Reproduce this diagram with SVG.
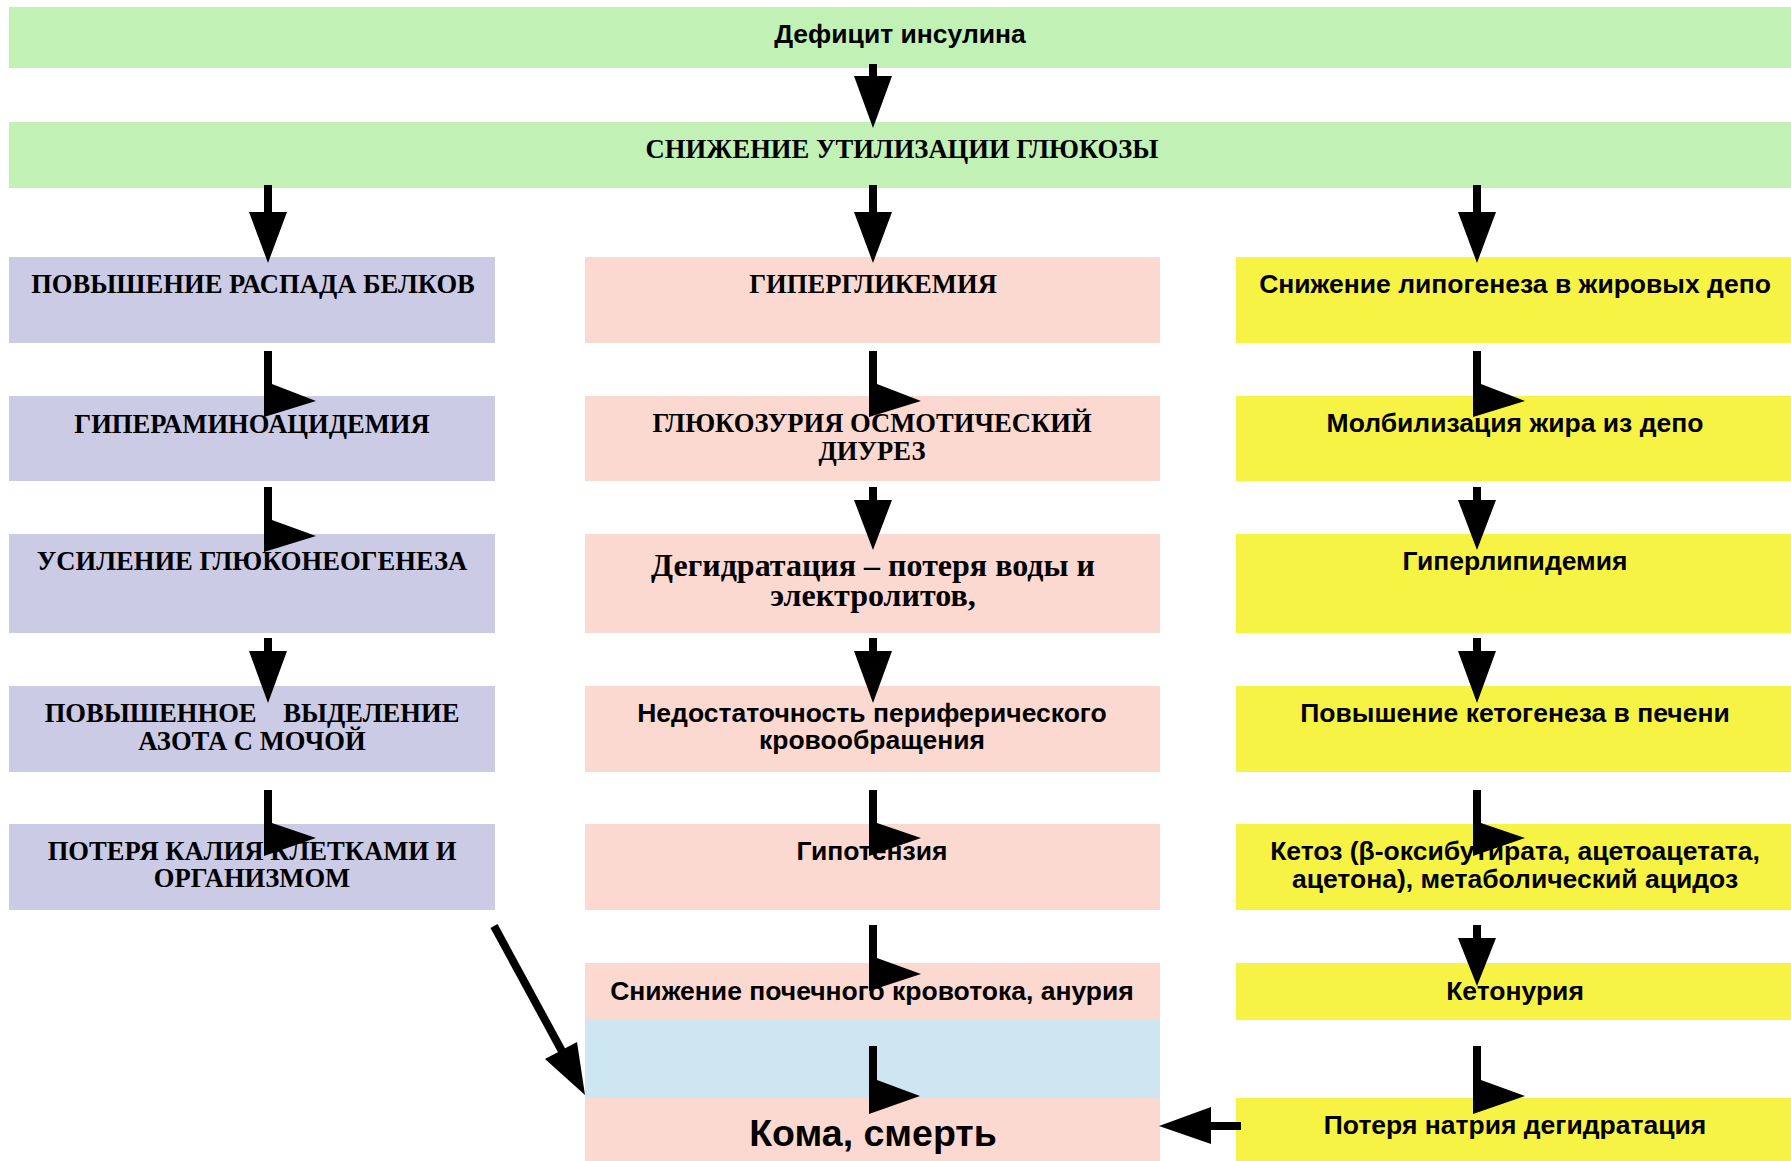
<svg xmlns="http://www.w3.org/2000/svg" width="1791" height="1161" viewBox="0 0 1791 1161">
<style>
.g{fill:#c1f1b5}.l{fill:#cbcbe6}.p{fill:#fbd9d0}.y{fill:#f7f345}.b{fill:#cee5f2}
.s{font-family:"Liberation Sans",Arial,sans-serif;font-weight:bold;font-size:26.5px;fill:#000;text-anchor:middle}
.t{font-family:"Liberation Serif","Times New Roman",serif;font-weight:bold;font-size:26.6px;fill:#000;text-anchor:middle}
.a{fill:#000}
</style>
<rect width="1791" height="1161" fill="#fff"/>
<g id="n-deficit"><rect class="g" x="9" y="7" width="1782" height="61"/><text class="s" x="900" y="43">Дефицит инсулина</text></g>
<g id="n-snizh-util"><rect class="g" x="9" y="122" width="1782" height="66"/><text class="t" x="902" y="158">СНИЖЕНИЕ УТИЛИЗАЦИИ ГЛЮКОЗЫ</text></g>

<g id="n-raspad"><rect class="l" x="9" y="257" width="486" height="86"/><text class="t" x="253" y="293">ПОВЫШЕНИЕ РАСПАДА БЕЛКОВ</text></g>
<g id="n-hyperamino"><rect class="l" x="9" y="396" width="486" height="85"/><text class="t" x="252" y="433">ГИПЕРАМИНОАЦИДЕМИЯ</text></g>
<g id="n-gluconeo"><rect class="l" x="9" y="534" width="486" height="99"/><text class="t" x="252" y="570">УСИЛЕНИЕ ГЛЮКОНЕОГЕНЕЗА</text></g>
<g id="n-azot"><rect class="l" x="9" y="686" width="486" height="86"/><text class="t" x="252" y="722" xml:space="preserve">ПОВЫШЕННОЕ    ВЫДЕЛЕНИЕ</text><text class="t" x="252" y="750">АЗОТА С МОЧОЙ</text></g>
<g id="n-kalij"><rect class="l" x="9" y="824" width="486" height="86"/><text class="t" x="252" y="860">ПОТЕРЯ КАЛИЯ КЛЕТКАМИ И</text><text class="t" x="252" y="887">ОРГАНИЗМОМ</text></g>

<g id="n-hyperglyc"><rect class="p" x="585" y="257" width="575" height="86"/><text class="t" x="873" y="293">ГИПЕРГЛИКЕМИЯ</text></g>
<g id="n-glucosuria"><rect class="p" x="585" y="396" width="575" height="85"/><text class="t" x="872" y="432">ГЛЮКОЗУРИЯ ОСМОТИЧЕСКИЙ</text><text class="t" x="872" y="460">ДИУРЕЗ</text></g>
<g id="n-degidr"><rect class="p" x="585" y="534" width="575" height="99"/><text class="t" x="873" y="576" style="font-size:32px">Дегидратация – потеря воды и</text><text class="t" x="873" y="606" style="font-size:32px">электролитов,</text></g>
<g id="n-nedost"><rect class="p" x="585" y="686" width="575" height="86"/><text class="s" x="872" y="722">Недостаточность периферического</text><text class="s" x="872" y="749">кровообращения</text></g>
<g id="n-hypoten"><rect class="p" x="585" y="824" width="575" height="86"/><text class="s" x="872" y="860">Гипотензия</text></g>
<g id="n-pochech"><rect class="p" x="585" y="963" width="575" height="57"/><text class="s" x="872" y="1000">Снижение почечного кровотока, анурия</text></g>
<g id="n-blank"><rect class="b" x="585" y="1020" width="575" height="78"/></g>
<g id="n-koma"><rect class="p" x="585" y="1098" width="575" height="63"/><text class="s" x="873" y="1146" style="font-size:37.5px">Кома, смерть</text></g>

<g id="n-lipogen"><rect class="y" x="1236" y="257" width="555" height="86"/><text class="s" x="1515" y="293">Снижение липогенеза в жировых депо</text></g>
<g id="n-mobil"><rect class="y" x="1236" y="396" width="555" height="85"/><text class="s" x="1515" y="432">Молбилизация жира из депо</text></g>
<g id="n-hyperlip"><rect class="y" x="1236" y="534" width="555" height="99"/><text class="s" x="1515" y="570">Гиперлипидемия</text></g>
<g id="n-ketogen"><rect class="y" x="1236" y="686" width="555" height="86"/><text class="s" x="1515" y="722">Повышение кетогенеза в печени</text></g>
<g id="n-ketoz"><rect class="y" x="1236" y="824" width="555" height="86"/><text class="s" x="1515" y="860">Кетоз (β-оксибутирата, ацетоацетата,</text><text class="s" x="1515" y="888">ацетона), метаболический ацидоз</text></g>
<g id="n-ketonuria"><rect class="y" x="1236" y="963" width="555" height="57"/><text class="s" x="1515" y="1000">Кетонурия</text></g>
<g id="n-natrij"><rect class="y" x="1236" y="1098" width="555" height="63"/><text class="s" x="1515" y="1134">Потеря натрия дегидратация</text></g>

<g id="connectors">
<polygon class="a" points="869,64 877,64 877,76 892,76 873,128 854,76 869,76"/>
<polygon class="a" points="264,185 272,185 272,212 287,212 268,263 249,212 264,212"/>
<polygon class="a" points="869,185 877,185 877,212 892,212 873,263 854,212 869,212"/>
<polygon class="a" points="1473,185 1481,185 1481,212 1496,212 1477,263 1458,212 1473,212"/>
<polygon class="a" points="869,487 877,487 877,500 892,500 873,550 854,500 869,500"/>
<polygon class="a" points="1473,487 1481,487 1481,500 1496,500 1477,550 1458,500 1473,500"/>
<polygon class="a" points="264,638 272,638 272,651 287,651 268,703 249,651 264,651"/>
<polygon class="a" points="869,638 877,638 877,651 892,651 873,703 854,651 869,651"/>
<polygon class="a" points="1473,638 1481,638 1481,651 1496,651 1477,703 1458,651 1473,651"/>
<polygon class="a" points="1473,925 1481,925 1481,938 1496,938 1477,986 1458,938 1473,938"/>
<polygon class="a" points="264,351 272,351 272,384 316,401 264,417"/>
<polygon class="a" points="869,351 877,351 877,384 921,401 869,417"/>
<polygon class="a" points="1473,351 1481,351 1481,384 1525,401 1473,417"/>
<polygon class="a" points="264,487 272,487 272,520 316,536 264,552"/>
<polygon class="a" points="264,790 272,790 272,823 316,838 264,856"/>
<polygon class="a" points="869,790 877,790 877,823 921,838 869,856"/>
<polygon class="a" points="1473,790 1481,790 1481,823 1525,838 1473,856"/>
<polygon class="a" points="869,925 877,925 877,958 921,974 869,991"/>
<polygon class="a" points="869,1046 877,1046 877,1080 920,1096 869,1114"/>
<polygon class="a" points="1473,1046 1481,1046 1481,1080 1525,1096 1473,1114"/>
<line x1="494" y1="926" x2="563" y2="1053" stroke="#000" stroke-width="8"/>
<polygon class="a" points="545,1059 577,1042 585,1095"/>
<polygon class="a" points="1241,1122 1241,1130 1211,1130 1211,1144 1159,1126 1211,1107 1211,1122"/>
</g>
</svg>
